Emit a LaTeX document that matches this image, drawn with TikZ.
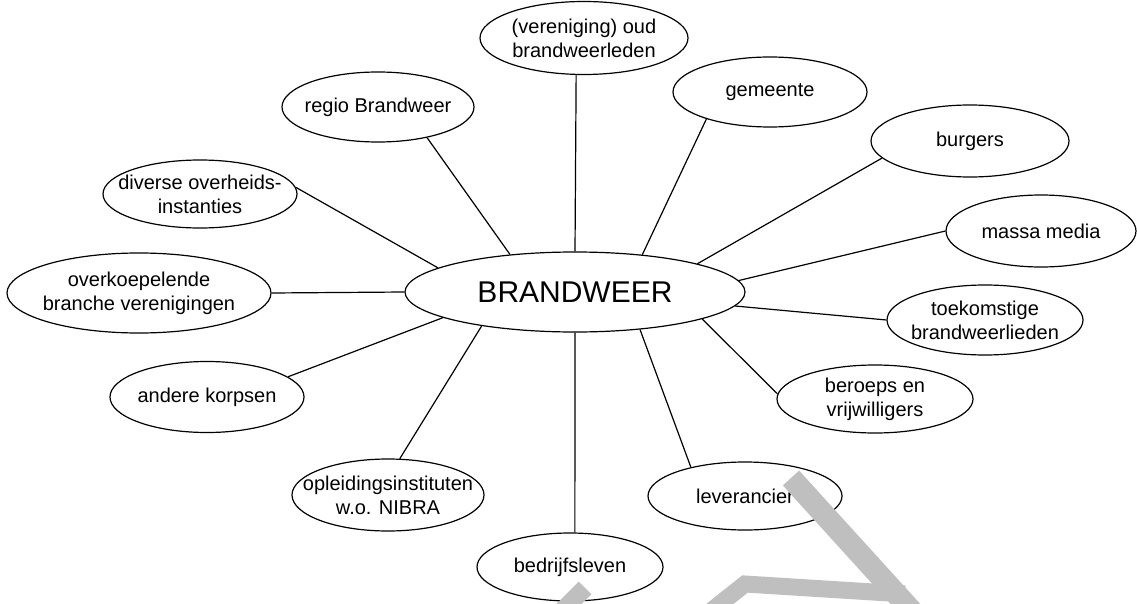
\documentclass[tikz,border=0pt]{standalone}
\usepackage{fontspec}
\setmainfont{Liberation Sans}
\usetikzlibrary{shapes.geometric}
\begin{document}
\begin{tikzpicture}[x=1pt,y=-1pt,
  sat/.style={ellipse, draw, line width=1.2pt, inner xsep=-30pt, inner ysep=-10pt, align=center, font=\fontsize{20}{24}\selectfont},
  hub/.style={ellipse, draw, line width=1.2pt, inner xsep=-30pt, inner ysep=-10pt, font=\fontsize{30}{36}\selectfont},
  link/.style={line width=1.2pt},
  wm/.style={draw=black!25, line cap=butt}]
\useasboundingbox (0,0) rectangle (1137,604);
\clip (0,0) rectangle (1137,604);
\node[hub, minimum width=340pt, minimum height=80pt] (bw) at (575,292) {BRANDWEER};
\node[sat, minimum width=208pt, minimum height=73pt] (ver) at (584,38) {(vereniging) oud\\brandweerleden};
\node[sat, minimum width=194pt, minimum height=70pt] (gem) at (770,92) {gemeente};
\node[sat, minimum width=198pt, minimum height=72pt] (bur) at (970,141) {burgers};
\node[sat, minimum width=190pt, minimum height=72pt] (mas) at (1041,231) {massa media};
\node[sat, minimum width=196pt, minimum height=70pt] (toe) at (985,320) {toekomstige\\brandweerlieden};
\node[sat, minimum width=196pt, minimum height=68pt] (ber) at (875,399) {beroeps en\\vrijwilligers};
\node[sat, minimum width=194pt, minimum height=68pt] (lev) at (745,496) {leverancier};
\node[sat, minimum width=186pt, minimum height=68pt] (bed) at (570,567) {bedrijfsleven};
\node[sat, minimum width=192pt, minimum height=72pt] (opl) at (388,495) {opleidingsinstituten\\w.o. NIBRA};
\node[sat, minimum width=194pt, minimum height=71pt] (ak) at (207,397) {andere korpsen};
\node[sat, minimum width=264pt, minimum height=80pt] (ove) at (139,293) {overkoepelende\\branche verenigingen};
\node[sat, minimum width=194pt, minimum height=68pt] (div) at (200,194) {diverse overheids-\\instanties};
\node[sat, minimum width=192pt, minimum height=70pt] (reg) at (378,107) {regio Brandweer};
\draw[link] (ver.-102) -- (bw.90);
\draw[link] (gem.-157) -- (bw.29);
\draw[link] (bur.191) -- (bw.13);
\draw[link] (mas.180) -- (bw.4);
\draw[link] (toe.180) -- (bw.-5);
\draw[link] (ber.177) -- (bw.-12.5);
\draw[link] (lev.152) -- (bw.-30);
\draw[link] (bed.82) -- (bw.-90);
\draw[link] (opl.72) -- (bw.-160);
\draw[link] (ak.14) -- (bw.191);
\draw[link] (ove.0) -- (bw.180);
\draw[link] (div.4) -- (bw.170);
\draw[link] (reg.-32) -- (bw.150);
\draw[wm, line width=22pt] (791,478) -- (920,620);
\draw[wm, line width=17pt, line join=miter] (706,615) -- (745,584) -- (905,594);
\draw[wm, line width=18pt] (558,615) -- (585,588);
\end{tikzpicture}
\end{document}
